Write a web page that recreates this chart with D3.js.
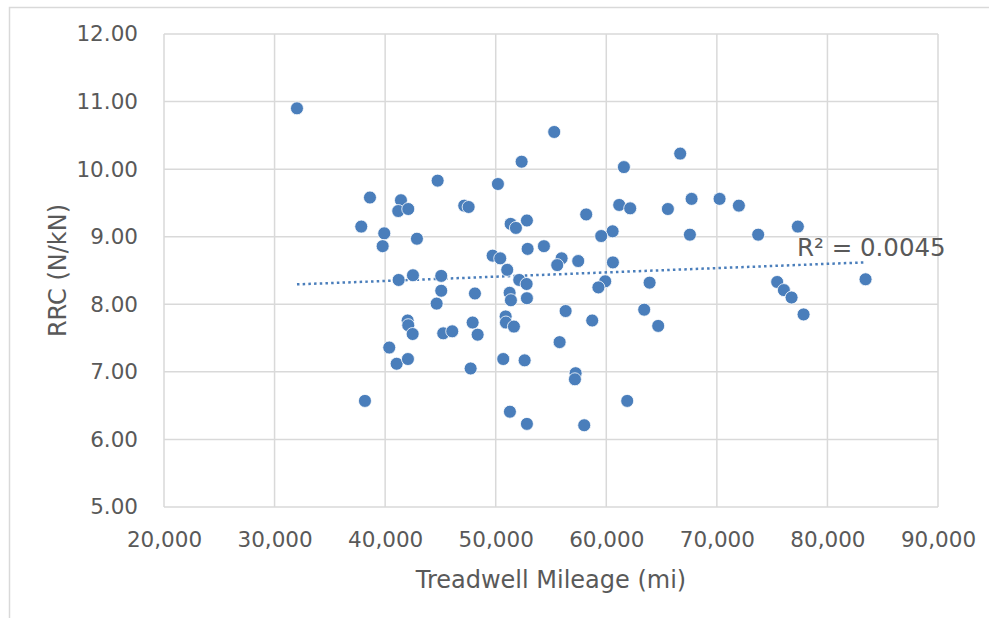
<!DOCTYPE html>
<html>
<head>
<meta charset="utf-8">
<script src="https://cdn.jsdelivr.net/npm/d3@7"></script>
<style>
  body { margin: 0; background: #fff; }
  text { font-family: "DejaVu Sans", Verdana, sans-serif; fill: #595959; }
</style>
</head>
<body>
<svg id="chart" width="989" height="618"></svg>
<script>
// mileage (mi)
var mileage = [32026, 38627, 37840, 39920, 39775, 41430, 41185, 42090, 42876, 44748,
  47153, 47551, 50200, 52343, 55291, 61593, 51349, 51828, 52822, 58184,
  61168, 62163, 60571, 59541, 52886, 54360, 49721, 50408, 55960, 55562,
  57461, 60599, 51041, 41222, 42515, 45073, 52126, 52795, 45073, 48121,
  51258, 51376, 52822, 44658, 59902, 59287, 63917, 56322, 58727, 63429,
  64695, 42035, 42090, 42488, 40372, 41041, 42062, 38174, 45254, 46068,
  47913, 48365, 47732, 50897, 50924, 51647, 50680, 52615, 55779, 57226,
  57163, 51285, 52822, 58004, 61892, 66684, 65572, 67715, 70246, 71992,
  67561, 73737, 77326, 75455, 76060, 76757, 77842, 83448]
// rolling resistance coefficient (N/kN)
var rrc = [10.90, 9.58, 9.15, 9.05, 8.86, 9.54, 9.38, 9.41, 8.97, 9.83,
  9.46, 9.44, 9.78, 10.11, 10.55, 10.03, 9.19, 9.13, 9.24, 9.33,
  9.47, 9.42, 9.08, 9.01, 8.82, 8.86, 8.72, 8.68, 8.68, 8.58,
  8.64, 8.62, 8.51, 8.36, 8.43, 8.42, 8.36, 8.30, 8.20, 8.16,
  8.17, 8.06, 8.09, 8.01, 8.34, 8.25, 8.32, 7.90, 7.76, 7.92,
  7.68, 7.76, 7.69, 7.56, 7.36, 7.12, 7.19, 6.57, 7.57, 7.60,
  7.73, 7.55, 7.05, 7.82, 7.73, 7.67, 7.19, 7.17, 7.44, 6.98,
  6.89, 6.41, 6.23, 6.21, 6.57, 10.23, 9.41, 9.56, 9.56, 9.46,
  9.03, 9.03, 9.15, 8.33, 8.21, 8.10, 7.85, 8.37]

var xTicks = [20000, 30000, 40000, 50000, 60000, 70000, 80000, 90000]
var yTicks = [5, 6, 7, 8, 9, 10, 11, 12]
var r2Label = "R\u00b2 = 0.0045"

var svg = d3.select("#chart")
var pLeft = 164, pRight = 938, pTop = 34, pBottom = 507

var x = d3.scaleLinear().domain([20000, 90000]).range([pLeft, pRight])
var y = d3.scaleLinear().domain([5, 12]).range([pBottom, pTop])

// chart area border (cropped on the right and bottom)
svg.append("rect")
  .attr("x", 9.5).attr("y", 7.5)
  .attr("width", 1000).attr("height", 700)
  .attr("fill", "none").attr("stroke", "#d9d9d9").attr("stroke-width", 1.5)

// Grid
var grid = svg.append("g")
grid.selectAll("line.v").data(xTicks).enter().append("line")
  .attr("class", "v")
  .attr("x1", d => x(d)).attr("x2", d => x(d))
  .attr("y1", pTop).attr("y2", pBottom)
  .attr("stroke", "#d9d9d9").attr("stroke-width", 1.5)
grid.selectAll("line.h").data(yTicks).enter().append("line")
  .attr("class", "h")
  .attr("x1", pLeft).attr("x2", pRight)
  .attr("y1", d => y(d)).attr("y2", d => y(d))
  .attr("stroke", "#d9d9d9").attr("stroke-width", 1.5)

// Axes (labels only)
svg.append("g")
  .attr("transform", `translate(0,${pBottom})`)
  .call(d3.axisBottom(x).tickValues(xTicks).tickSize(0).tickPadding(25).tickFormat(d3.format(",")))
svg.append("g")
  .attr("transform", `translate(${pLeft},0)`)
  .call(d3.axisLeft(y).tickValues(yTicks).tickSize(0).tickPadding(26).tickFormat(d3.format(".2f")))
svg.selectAll(".domain").remove()
svg.selectAll(".tick text")
  .attr("fill", "#595959")
  .style("font-size", "21.5px")
  .style("font-family", "'DejaVu Sans', Verdana, sans-serif")

// Axis titles
svg.append("text")
  .attr("x", (pLeft + pRight) / 2).attr("y", 588)
  .attr("text-anchor", "middle")
  .style("font-size", "24px")
  .text("Treadwell Mileage (mi)")
svg.append("text")
  .attr("transform", `translate(66,${(pTop + pBottom) / 2}) rotate(-90)`)
  .attr("text-anchor", "middle")
  .style("font-size", "24px")
  .text("RRC (N/kN)")

// Trendline (least squares)
var pts = mileage.map((m, i) => [m, rrc[i]])
var mx = d3.mean(mileage), my = d3.mean(rrc)
var slope = d3.sum(pts, p => (p[0] - mx) * (p[1] - my)) / d3.sum(pts, p => (p[0] - mx) * (p[0] - mx))
var icpt = my - slope * mx
var ext = d3.extent(mileage)
svg.append("line")
  .attr("x1", x(ext[0])).attr("y1", y(icpt + slope * ext[0]))
  .attr("x2", x(ext[1])).attr("y2", y(icpt + slope * ext[1]))
  .attr("stroke", "#4a7ebb").attr("stroke-width", 2.5)
  .attr("stroke-dasharray", "2.5,3.2")

// Points
svg.append("g").selectAll("circle").data(pts).enter().append("circle")
  .attr("cx", d => x(d[0])).attr("cy", d => y(d[1]))
  .attr("r", 6.5)
  .attr("fill", "#4a7ebb")
  .attr("stroke", "#ffffff").attr("stroke-width", 0.8)

// R squared label
svg.append("text")
  .attr("x", 797).attr("y", 256)
  .style("font-size", "24.5px")
  .text(r2Label)
</script>
</body>
</html>
